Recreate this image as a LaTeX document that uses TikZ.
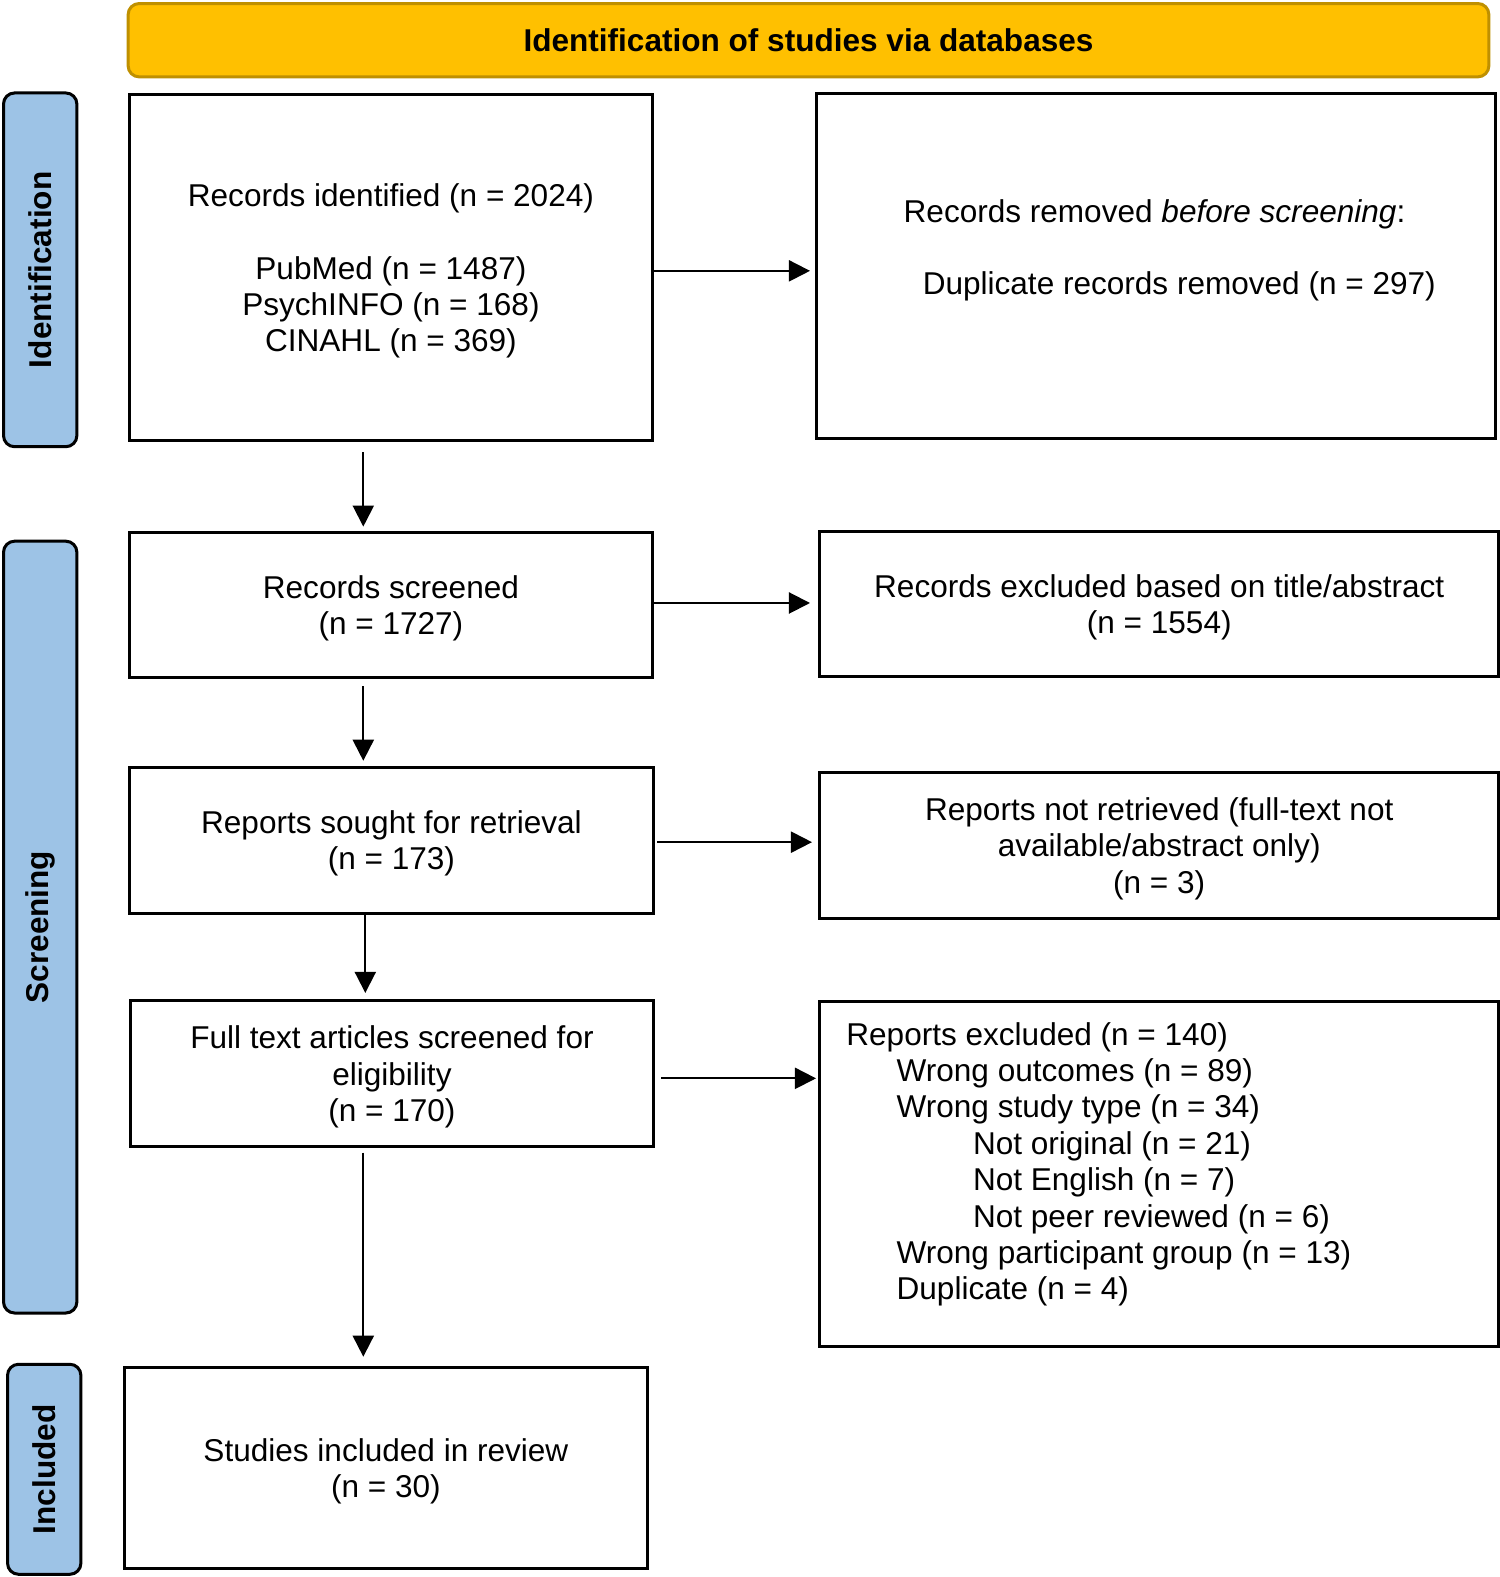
\documentclass[tikz,border=0pt]{standalone}
\usepackage{fontspec}
\setmainfont{Liberation Sans}
\usetikzlibrary{arrows.meta}
\definecolor{hdrfill}{HTML}{FFC000}
\definecolor{hdrdraw}{HTML}{BF9000}
\definecolor{sidefill}{HTML}{9DC3E6}
\tikzset{
  box/.style={draw=black, line width=3pt, fill=white, inner sep=0pt, anchor=north west},
  txt/.style={inner sep=0pt, align=center, font=\fontsize{31.4}{36}\selectfont},
  side/.style={draw=black, line width=3pt, fill=sidefill, rounded corners=11pt, inner sep=0pt, anchor=north west},
  sidetext/.style={rotate=90, font=\bfseries\fontsize{31.4}{36}\selectfont},
  hdr/.style={draw=hdrdraw, line width=3pt, fill=hdrfill, rounded corners=11pt, inner sep=0pt, anchor=north west, font=\bfseries\fontsize{31.4}{36}\selectfont},
  lbl/.style={anchor=base west, inner sep=0pt, font=\fontsize{31.4}{36}\selectfont},
  arr/.style={line width=2pt, -{Triangle[length=21pt,width=21pt]}}
}
\begin{document}
\begin{tikzpicture}[x=1pt,y=-1pt]
\useasboundingbox (0,0) rectangle (1492.5,1569.2);
% header
\node[hdr, minimum width=1354pt, minimum height=73pt] (hdr) at (126,2) {Identification of studies via databases};
% side labels
\node[side, minimum width=73pt, minimum height=352pt] (sid) at (2,91) {};
\node[sidetext] (sidt) at (sid.center) {Identification};
\node[side, minimum width=73pt, minimum height=768pt] (sscr) at (2,537) {};
\node[sidetext] (sscrt) at (sscr.center) {Screening};
\node[side, minimum width=73pt, minimum height=209pt] (sinc) at (6,1356) {};
\node[sidetext] (sinct) at (sinc.center) {Included};
% left column
\node[box, minimum width=521pt, minimum height=344pt] (b1) at (127,93) {};
\node[txt] (b1t) at ([yshift=-3pt]b1.center) {Records identified (n = 2024)\\[36pt]PubMed (n = 1487)\\PsychINFO (n = 168)\\CINAHL (n = 369)};
\node[box, minimum width=521pt, minimum height=145pt] (b2) at (127,528) {};
\node[txt] (b2t) at ([yshift=-3pt]b2.center) {Records screened\\(n = 1727)};
\node[box, minimum width=522pt, minimum height=145pt] (b3) at (127,762) {};
\node[txt] (b3t) at ([yshift=-3pt]b3.center) {Reports sought for retrieval\\(n = 173)};
\node[box, minimum width=521pt, minimum height=145pt] (b4) at (128,994) {};
\node[txt] (b4t) at ([yshift=-3.5pt]b4.center) {Full text articles screened for\\eligibility\\(n = 170)};
\node[box, minimum width=521pt, minimum height=200pt] (b5) at (122,1359) {};
\node[txt] (b5t) at ([yshift=-3.5pt]b5.center) {Studies included in review\\(n = 30)};
% right column
\node[box, minimum width=676pt, minimum height=343pt] (r1) at (811,92) {};
\node[lbl] (r1a) at (899,221) {Records removed \textit{before screening}:};
\node[lbl] (r1b) at (918,293) {Duplicate records removed (n = 297)};
\node[box, minimum width=676pt, minimum height=145pt] (r2) at (814,527) {};
\node[txt] (r2t) at ([yshift=-3pt]r2.center) {Records excluded based on title/abstract\\(n = 1554)};
\node[box, minimum width=676pt, minimum height=145pt] (r3) at (814,767) {};
\node[txt] (r3t) at ([yshift=-3.5pt]r3.center) {Reports not retrieved (full-text not\\available/abstract only)\\(n = 3)};
\node[box, minimum width=676pt, minimum height=343pt] (r4) at (814,995) {};
\node[lbl] (l1) at (842,1040) {Reports excluded (n = 140)};
\node[lbl] (l2) at (892,1076) {Wrong outcomes (n = 89)};
\node[lbl] (l3) at (892,1112) {Wrong study type (n = 34)};
\node[lbl] (l4) at (968,1149) {Not original (n = 21)};
\node[lbl] (l5) at (968,1185) {Not English (n = 7)};
\node[lbl] (l6) at (968,1221) {Not peer reviewed (n = 6)};
\node[lbl] (l7) at (892,1257) {Wrong participant group (n = 13)};
\node[lbl] (l8) at (892,1293) {Duplicate (n = 4)};
% horizontal arrows
\draw[arr, shorten >=5pt] ([yshift=-3pt]b1.east) -- ([yshift=-3pt]b1.east -| r1.west);
\draw[arr, shorten >=8pt] ([yshift=2pt]b2.east) -- ([yshift=2pt]b2.east -| r2.west);
\draw[arr, shorten <=2pt, shorten >=6pt] ([yshift=-2pt]b3.east) -- ([yshift=-2pt]b3.east -| r3.west);
\draw[arr, shorten <=6pt, shorten >=2pt] ([yshift=-5pt]b4.east) -- ([yshift=-5pt]b4.east -| r4.west);
% vertical arrows
\draw[arr, shorten <=10pt, shorten >=4pt] ([xshift=-27.5pt]b1.south) -- ([xshift=-27.5pt]b1.south |- b2.north);
\draw[arr, shorten <=7pt, shorten >=5pt] ([xshift=-27.5pt]b2.south) -- ([xshift=-27.5pt]b2.south |- b3.north);
\draw[arr, shorten >=6pt] ([xshift=-26pt]b3.south) -- ([xshift=-26pt]b3.south |- b4.north);
\draw[arr, shorten <=5pt, shorten >=9pt] ([xshift=-28.5pt]b4.south) -- ([xshift=-28.5pt]b4.south |- b5.north);
\end{tikzpicture}
\end{document}
